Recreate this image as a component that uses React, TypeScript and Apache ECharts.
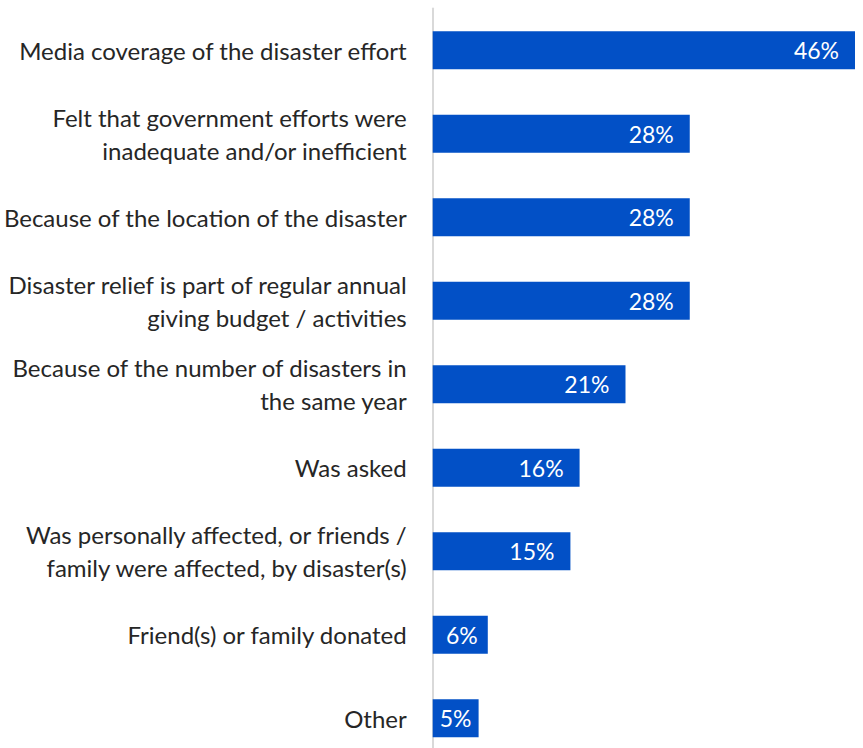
import React, { useEffect, useRef } from "react";
import * as echarts from "echarts";

const categories: string[] = [
  "Media coverage of the disaster effort",
  "Felt that government efforts were\ninadequate and/or inefficient",
  "Because of the location of the disaster",
  "Disaster relief is part of regular annual\ngiving budget / activities",
  "Because of the number of disasters in\nthe same year",
  "Was asked",
  "Was personally affected, or friends /\nfamily were affected, by disaster(s)",
  "Friend(s) or family donated",
  "Other",
];

const values: number[] = [46, 28, 28, 28, 21, 16, 15, 6, 5];

export default function App() {
  const ref = useRef<HTMLDivElement>(null);
  useEffect(() => {
    if (!ref.current) return;
    const chart = echarts.init(ref.current, undefined, { renderer: "svg" });
    const font = "Lato";
    chart.setOption({
      animation: false,
      grid: { left: 432, right: 8, top: 8.5, bottom: 0, containLabel: false },
      xAxis: {
        type: "value",
        min: 0,
        max: 46,
        show: false,
      },
      yAxis: {
        type: "category",
        data: categories,
        inverse: true,
        offset: 1,
        axisLine: { show: true, lineStyle: { color: "#d9d9d9", width: 2 } },
        axisTick: { show: false },
        axisLabel: {
          margin: 25,
          color: "#262626",
          fontFamily: font,
          fontSize: 24,
          lineHeight: 33,
          align: "right",
        },
      },
      series: [
        {
          type: "bar",
          barWidth: 38,
          itemStyle: { color: "#0250C6" },
          data: values.map((v) => ({
            value: v,
            label: v >= 10
              ? { position: "insideRight", distance: 16 }
              : v >= 6
              ? { position: "insideRight", distance: 10 }
              : { position: "inside" },
          })),
          label: {
            show: true,
            color: "#ffffff",
            fontFamily: font,
            fontSize: 23,
            formatter: (p: any) => p.value + "%",
          },
        },
      ],
    });
    return () => chart.dispose();
  }, []);
  return (
    <div style={{ position: "absolute", left: 0, top: 0, width: 863, height: 748, overflow: "hidden", background: "#fff" }}>
      <div ref={ref} style={{ width: 863, height: 760 }} />
    </div>
  );
}
